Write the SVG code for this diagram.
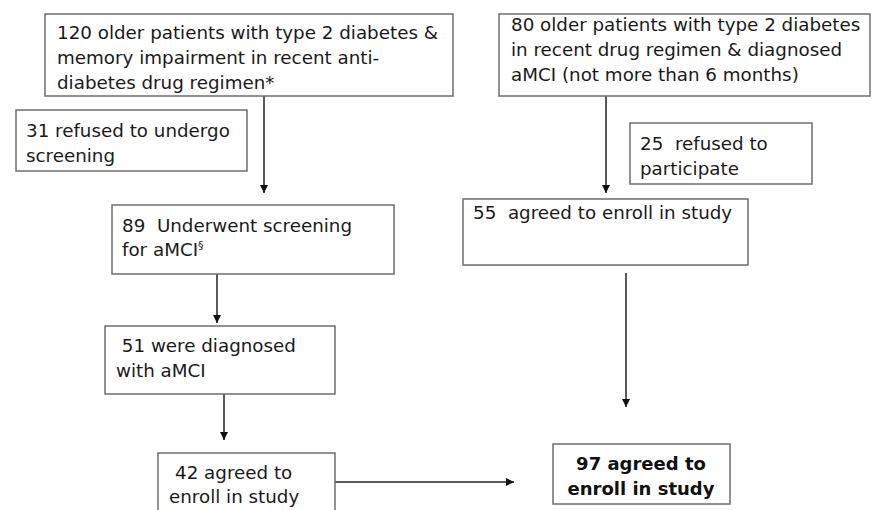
<svg xmlns="http://www.w3.org/2000/svg" width="877" height="510" viewBox="0 0 877 510">
<style>
.box{fill:#fff;stroke:#6e6e6e;stroke-width:1.5}
.t{font-family:"DejaVu Sans",Verdana,sans-serif;font-size:18.3px;fill:#1a1a1a;white-space:pre}
.b{font-family:"DejaVu Sans",Verdana,sans-serif;font-size:18px;font-weight:bold;fill:#111;text-anchor:middle}
.c{stroke:#222;stroke-width:1.5;fill:none;marker-end:url(#ah)}
</style>
<defs>
<marker id="ah" viewBox="0 0 10 10" refX="10" refY="5" markerWidth="8" markerHeight="8" markerUnits="userSpaceOnUse" orient="auto">
<path d="M0,0 L10,5 L0,10 z" fill="#111"/>
</marker>
</defs>
<rect width="877" height="510" fill="#fff"/>
<g id="connectors">
<line class="c" x1="264" y1="96" x2="264" y2="193"/>
<line class="c" x1="217" y1="265" x2="217" y2="323"/>
<line class="c" x1="224" y1="394" x2="224" y2="440"/>
<line class="c" x1="328" y1="482" x2="514" y2="482"/>
<line class="c" x1="606" y1="96" x2="606" y2="193"/>
<line class="c" x1="626" y1="273" x2="626" y2="407"/>
</g>
<g id="n120">
<rect class="box" x="45" y="14" width="408" height="82"/>
<text class="t" x="57" y="39">120 older patients with type 2 diabetes &amp;</text>
<text class="t" x="57" y="64">memory impairment in recent anti-</text>
<text class="t" x="57" y="89">diabetes drug regimen*</text>
</g>
<g id="n31">
<rect class="box" x="16" y="110" width="231" height="61"/>
<text class="t" x="26" y="137">31 refused to undergo</text>
<text class="t" x="26" y="162">screening</text>
</g>
<g id="n89">
<rect class="box" x="112" y="205" width="282" height="69"/>
<text class="t" x="122" y="232" xml:space="preserve">89  Underwent screening</text>
<text class="t" x="122" y="256">for aMCI<tspan font-size="11" dy="-7">§</tspan></text>
</g>
<g id="n51">
<rect class="box" x="105" y="326" width="230" height="68"/>
<text class="t" x="116" y="352" xml:space="preserve"> 51 were diagnosed</text>
<text class="t" x="116" y="377">with aMCI</text>
</g>
<g id="n42">
<rect class="box" x="158" y="453" width="177" height="70"/>
<text class="t" x="175" y="479">42 agreed to</text>
<text class="t" x="169" y="503">enroll in study</text>
</g>
<g id="n80">
<rect class="box" x="499" y="14" width="371" height="82"/>
<text class="t" x="511" y="31">80 older patients with type 2 diabetes</text>
<text class="t" x="511" y="56">in recent drug regimen &amp; diagnosed</text>
<text class="t" x="511" y="81">aMCI (not more than 6 months)</text>
</g>
<g id="n25">
<rect class="box" x="630" y="123" width="182" height="61"/>
<text class="t" x="640" y="150" xml:space="preserve">25  refused to</text>
<text class="t" x="640" y="175">participate</text>
</g>
<g id="n55">
<rect class="box" x="463" y="199" width="285" height="66"/>
<text class="t" x="473" y="219" xml:space="preserve">55  agreed to enroll in study</text>
</g>
<g id="n97">
<rect class="box" x="553" y="444" width="177" height="60"/>
<text class="b" x="641" y="470">97 agreed to</text>
<text class="b" x="641" y="495">enroll in study</text>
</g>
</svg>
